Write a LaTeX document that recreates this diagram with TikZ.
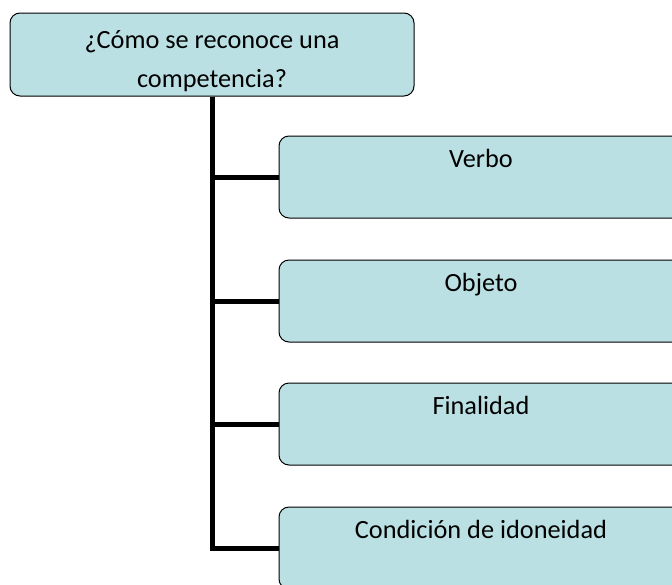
\documentclass[tikz,border=0pt]{standalone}
\usepackage{fontspec}
\setmainfont{Carlito}
\usetikzlibrary{calc}
\definecolor{cajaazul}{HTML}{BAE0E3}

\begin{document}
\begin{tikzpicture}[x = 1pt, y = -1pt,
        caja/.style = {draw = black, line width = 1pt, fill = cajaazul, rounded corners = 10pt,
            minimum width = 404pt, inner xsep = 0pt, inner ysep = 0pt, align = center,
            font = \fontsize{26.3}{39}\selectfont},
        rama/.style = {black, line width = 5pt}]
            \clip (0,0) rectangle (672,584);
            \node[caja, text height = 74pt, text depth = 9pt] (pregunta) at (212,54.5) {¿Cómo se reconoce una\\competencia?};
            \node[caja, text height = 31pt, text depth = 51pt] (verbo) at (481,177) {Verbo};
            \node[caja, text height = 31pt, text depth = 51pt] (objeto) at (481,301) {Objeto};
            \node[caja, text height = 31pt, text depth = 51pt] (finalidad) at (481,424) {Finalidad};
            \node[caja, text height = 31pt, text depth = 51pt] (condicion) at (481,548) {Condición de idoneidad};
            \draw[rama] (pregunta.south) |- (condicion.west);
            \draw[rama] (pregunta.south) |- (verbo.west);
            \draw[rama] (pregunta.south) |- (objeto.west);
            \draw[rama] (pregunta.south) |- (finalidad.west);
        \end{tikzpicture}
\end{document}
